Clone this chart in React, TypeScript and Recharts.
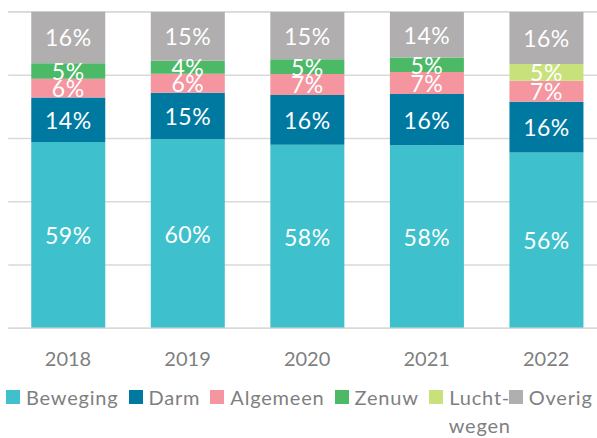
import React from "react";
import { BarChart, Bar, XAxis, YAxis, CartesianGrid, LabelList } from "recharts";

// Aandeel per aandoeningsgroep per jaar (%).
const jaren = ["2018", "2019", "2020", "2021", "2022"];
const beweging = [58.9, 59.8, 58.0, 57.9, 55.6];
const darm = [14.1, 14.7, 15.8, 16.2, 16.0];
const algemeen = [5.9, 6.0, 6.6, 6.9, 6.7];
const zenuw = [4.9, 4.1, 4.7, 4.6, 0];
const luchtwegen = [0, 0, 0, 0, 5.3];
const overig = [16.3, 15.4, 14.9, 14.4, 16.4];
const yTicks = [0, 20, 40, 60, 80, 100];

const series = [
  { key: "beweging", naam: "Beweging", kleur: "#3EC0CD", waarden: beweging },
  { key: "darm", naam: "Darm", kleur: "#0079A1", waarden: darm },
  { key: "algemeen", naam: "Algemeen", kleur: "#F4959F", waarden: algemeen },
  { key: "zenuw", naam: "Zenuw", kleur: "#4CB967", waarden: zenuw },
  { key: "luchtwegen", naam: "Lucht-\nwegen", kleur: "#C8E17A", waarden: luchtwegen },
  { key: "overig", naam: "Overig", kleur: "#B0AEAE", waarden: overig },
];

const data = jaren.map((jaar, i) => {
  const rij: Record<string, string | number> = { jaar };
  series.forEach((s) => (rij[s.key] = s.waarden[i]));
  return rij;
});

const FONT = "Lato, 'Open Sans', sans-serif";
const GRIJS = "#7f7f7f";
const LIJN = "#d9d9d9";

function Label(props: any) {
  const vb = props.viewBox ?? props;
  const { x, y, width, height } = vb;
  const v = Number(props.value);
  if (!v) return null;
  return (
    <text
      x={x + width / 2}
      y={y + height / 2}
      fill="#ffffff"
      fontSize={23}
      letterSpacing={0.5}
      fontFamily={FONT}
      textAnchor="middle"
      dominantBaseline="central"
    >
      {Math.round(v)}%
    </text>
  );
}

function Legenda() {
  return (
    <div
      style={{
        position: "absolute",
        left: 6,
        top: 383,
        display: "flex",
        alignItems: "flex-start",
        fontFamily: FONT,
        fontSize: 20,
        lineHeight: "28px",
        letterSpacing: 0.8,
        color: GRIJS,
        whiteSpace: "pre",
      }}
    >
      {series.map((s) => (
        <div
          key={s.key}
          style={{
            display: "flex",
            alignItems: "flex-start",
            marginRight: s.key === "luchtwegen" ? -2 : 10,
          }}
        >
          <div
            style={{ width: 14, height: 14, background: s.kleur, marginTop: 7, marginRight: 6 }}
          />
          <div style={{ textAlign: "center" }}>{s.naam}</div>
        </div>
      ))}
    </div>
  );
}

export default function App() {
  return (
    <div
      style={{
        position: "fixed",
        left: 0,
        top: 0,
        width: 597,
        height: 438,
        overflow: "hidden",
        background: "#fff",
      }}
    >
      <BarChart
        width={606}
        height={438}
        data={data}
        margin={{ top: 11.7, right: 0, bottom: 0, left: 8.25 }}
        barSize={74}
      >
        <CartesianGrid vertical={false} stroke={LIJN} strokeWidth={1.5} />
        <XAxis
          dataKey="jaar"
          height={109.7}
          tickLine={false}
          tickSize={0}
          tickMargin={23}
          axisLine={{ stroke: LIJN, strokeWidth: 1.5 }}
          tick={{ fill: GRIJS, fontSize: 20, fontFamily: FONT }}
        />
        <YAxis hide width={0} domain={[0, 100]} ticks={yTicks} />
        {series.map((s) => (
          <Bar
            key={s.key}
            dataKey={s.key}
            stackId="a"
            fill={s.kleur}
            isAnimationActive={false}
          >
            <LabelList dataKey={s.key} content={<Label />} />
          </Bar>
        ))}
      </BarChart>
      <Legenda />
    </div>
  );
}
